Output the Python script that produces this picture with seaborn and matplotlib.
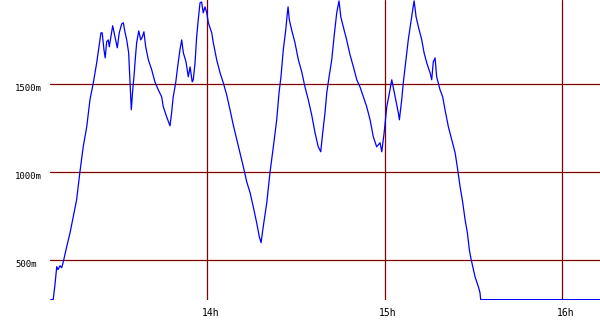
import matplotlib
matplotlib.use("Agg")
import matplotlib.pyplot as plt
import matplotlib.transforms as mtransforms
import seaborn as sns
import pandas as pd

# time of day (decimal hours) and altitude (m)
hours = [13.118, 13.132, 13.142, 13.152, 13.159, 13.170, 13.180, 13.189, 13.208, 13.227,
         13.245, 13.264, 13.282, 13.301, 13.321, 13.339, 13.358, 13.377, 13.395, 13.401,
         13.408, 13.418, 13.425, 13.433, 13.442, 13.448, 13.461, 13.467, 13.480, 13.493,
         13.504, 13.518, 13.527, 13.536, 13.546, 13.557, 13.565, 13.572, 13.580, 13.587,
         13.594, 13.602, 13.614, 13.625, 13.634, 13.643, 13.653, 13.668, 13.687, 13.705,
         13.724, 13.743, 13.752, 13.771, 13.790, 13.799, 13.808, 13.822, 13.833, 13.846,
         13.856, 13.865, 13.880, 13.893, 13.903, 13.915, 13.921, 13.931, 13.940, 13.949,
         13.959, 13.968, 13.977, 13.987, 13.997, 14.006, 14.025, 14.034, 14.053, 14.072,
         14.090, 14.109, 14.128, 14.146, 14.166, 14.184, 14.203, 14.222, 14.241, 14.259,
         14.278, 14.293, 14.303, 14.315, 14.335, 14.353, 14.372, 14.391, 14.404, 14.415,
         14.428, 14.442, 14.451, 14.455, 14.462, 14.475, 14.494, 14.513, 14.532, 14.550,
         14.569, 14.588, 14.607, 14.625, 14.639, 14.650, 14.663, 14.673, 14.686, 14.701,
         14.714, 14.729, 14.742, 14.752, 14.766, 14.785, 14.804, 14.823, 14.842, 14.860,
         14.879, 14.898, 14.917, 14.935, 14.954, 14.973, 14.983, 14.996, 15.011, 15.029,
         15.039, 15.058, 15.076, 15.082, 15.095, 15.104, 15.119, 15.132, 15.146, 15.157,
         15.165, 15.176, 15.189, 15.208, 15.221, 15.236, 15.255, 15.264, 15.273, 15.283,
         15.292, 15.311, 15.326, 15.339, 15.358, 15.377, 15.396, 15.408, 15.424, 15.439,
         15.452, 15.465, 15.476, 15.484, 15.508, 15.527, 15.536, 15.540, 16.210]
altitude = [277, 277, 362, 464, 447, 469, 458, 492, 577, 656,
            747, 843, 996, 1143, 1257, 1409, 1506, 1619, 1749, 1789,
            1789, 1693, 1647, 1738, 1749, 1710, 1789, 1829, 1766, 1704,
            1789, 1840, 1846, 1795, 1749, 1676, 1506, 1353, 1466, 1540,
            1636, 1732, 1800, 1749, 1766, 1795, 1710, 1636, 1579, 1511,
            1466, 1426, 1370, 1313, 1262, 1336, 1426, 1506, 1596, 1693,
            1749, 1676, 1625, 1540, 1596, 1511, 1523, 1619, 1766, 1863,
            1959, 1964, 1902, 1936, 1902, 1846, 1789, 1732, 1636, 1562,
            1506, 1438, 1353, 1268, 1183, 1109, 1030, 945, 883, 803,
            713, 633, 600, 690, 826, 996, 1143, 1296, 1449, 1540,
            1693, 1806, 1902, 1936, 1863, 1806, 1732, 1636, 1568, 1483,
            1409, 1324, 1222, 1143, 1115, 1222, 1336, 1449, 1540, 1636,
            1766, 1902, 1970, 1880, 1823, 1749, 1664, 1596, 1523, 1483,
            1426, 1370, 1296, 1200, 1143, 1166, 1115, 1222, 1370, 1466,
            1523, 1426, 1336, 1296, 1409, 1506, 1636, 1749, 1846, 1919,
            1970, 1880, 1823, 1749, 1676, 1619, 1562, 1523, 1625, 1647,
            1540, 1466, 1426, 1353, 1256, 1183, 1109, 1030, 917, 826,
            730, 656, 560, 515, 407, 350, 316, 277, 277]

hour_ticks = [14, 15, 16]
hour_labels = ["14h", "15h", "16h"]
alt_ticks = [500, 1000, 1500]
alt_labels = ["500m", "1000m", "1500m"]

sns.set_style("white")
plt.rcParams["font.family"] = ["DejaVu Sans Mono"]

fig = plt.figure(figsize=(6.0, 3.3), dpi=100)
ax = fig.add_axes([50 / 600, 30 / 330, 550 / 600, 300 / 330])

df = pd.DataFrame({"hour": hours, "alt": altitude})
sns.lineplot(data=df, x="hour", y="alt", ax=ax, color="#0000ff",
             linewidth=0.9, estimator=None, sort=False, zorder=3)

ax.set_xlim(13.114, 16.212)
ax.set_ylim(275, 1975)

grid_col = "#800000"
for h in hour_ticks:
    ax.axvline(h, color=grid_col, linewidth=0.9, zorder=2)
for a in alt_ticks:
    ax.axhline(a, color=grid_col, linewidth=0.9, zorder=2)

ax.set_xticks(hour_ticks)
ax.set_xticklabels([])
ax.tick_params(axis="x", length=0)
ax.set_yticks([])
ax.set_xlabel("")
ax.set_ylabel("")

xtrans = mtransforms.blended_transform_factory(ax.transData, fig.transFigure)
shift = mtransforms.ScaledTranslation(3 / 100, 0, fig.dpi_scale_trans)
for h, lab in zip(hour_ticks, hour_labels):
    ax.text(h, 1 - 313 / 330, lab, transform=xtrans + shift, ha="center",
            va="center", fontsize=7, color="black")

ytrans = mtransforms.blended_transform_factory(fig.transFigure, ax.transData)
for a, lab in zip(alt_ticks, alt_labels):
    ax.text(15 / 600, a, lab, transform=ytrans, ha="left", va="top",
            fontsize=6.5, color="black")

for s in ax.spines.values():
    s.set_visible(False)

fig.savefig("out.png", dpi=100, facecolor="white")
